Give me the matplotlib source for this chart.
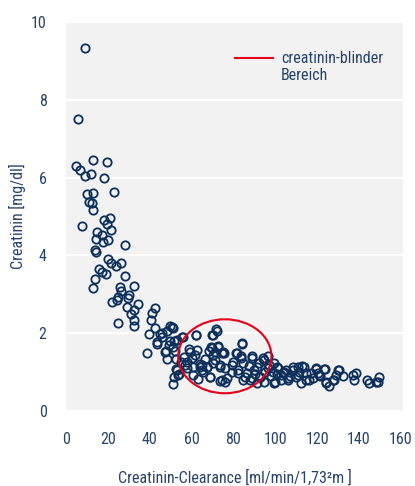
import matplotlib
matplotlib.use("Agg")
import numpy as np
from matplotlib import pyplot as plt
from matplotlib.patches import Ellipse
from matplotlib.lines import Line2D
from matplotlib import font_manager

# pick a narrow font if one is available
names = set(f.name for f in font_manager.fontManager.ttflist)
fams = [f for f in ['Roboto Condensed', 'Liberation Sans Narrow', 'Roboto',
                    'DejaVu Sans'] if f in names]
plt.rcParams['font.family'] = fams

# creatinine clearance (ml/min/1.73m2) vs. serum creatinine (mg/dl)
clearance = [
    9.1, 5.7, 4.8, 6.7, 9.1, 12.0, 12.9, 19.7, 18.2, 10.1, 12.9, 23.0, 11.0, 12.5,
    12.9, 7.7, 18.2, 21.1, 19.6, 21.6, 14.9, 17.2, 14.4, 20.1, 17.7, 28.1, 14.0,
    14.2, 20.0, 21.6, 26.2, 23.8, 16.0, 17.0, 19.0, 28.0, 14.0, 12.9, 26.0, 26.5,
    32.3, 30.3, 25.0, 22.2, 24.3, 29.5, 34.3, 29.0, 32.7, 31.0, 32.3, 32.4, 24.9,
    42.3, 41.0, 40.6, 42.6, 39.5, 44.7, 46.1, 43.5, 38.8, 49.8, 51.1, 48.2, 49.8,
    51.7, 49.0, 51.0, 47.7, 52.2, 48.5, 52.5, 53.0, 51.7, 51.3, 54.1, 55.7, 62.1,
    43.6, 46.0, 50.8, 47.4, 53.0, 52.7, 55.6, 56.2, 57.0, 53.7, 59.4, 60.3, 62.3,
    60.9, 62.6, 60.9, 63.2, 64.2, 65.2, 67.5, 69.0, 69.9, 72.2, 69.9, 70.4, 71.4,
    72.8, 74.7, 75.2, 73.8, 74.7, 77.0, 79.5, 81.9, 84.3, 83.4, 82.4, 85.7, 89.0,
    88.1, 91.5, 93.9, 96.3, 96.8, 92.9, 91.5, 94.4, 99.2, 101.1, 102.5, 99.6, 104.9,
    105.9, 108.7, 110.7, 112.1, 113.5, 114.5, 116.9, 119.3, 120.7, 123.6, 124.1,
    125.5, 127.4, 128.9, 130.3, 132.2, 137.0, 137.5, 138.4, 143.7, 144.7, 149.0,
    149.5, 71.7, 70.3, 84.2, 69.5, 72.8, 71.4, 75.3, 81.4, 83.4, 89.1, 80.0, 84.8,
    65.0, 67.5, 70.4, 73.8, 76.2, 79.5, 82.4, 86.7, 89.6, 92.0, 94.4, 96.3, 92.9,
    89.1, 84.8, 73.8, 76.2, 69.0, 65.6, 98.7, 101.0, 103.5, 105.9, 108.3, 110.7,
    109.7, 102.5, 100.1, 113.0, 119.3, 123.1, 114.5, 120.2, 115.9, 124.1, 129.8,
    127.9, 148.0, 58.0, 61.5, 63.8, 66.3, 68.2, 87.5, 90.5, 95.2, 97.8, 100.6,
    104.0, 106.8, 111.5, 117.8, 121.5, 55.0, 57.8, 59.0,
]
creatinine = [
    9.33, 7.5, 6.3, 6.2, 6.04, 6.1, 6.45, 6.4, 6.0, 5.58, 5.6, 5.63, 5.37, 5.35,
    5.17, 4.76, 4.91, 4.96, 4.8, 4.65, 4.6, 4.52, 4.41, 4.4, 4.35, 4.27, 4.14,
    4.09, 3.9, 3.8, 3.8, 3.73, 3.65, 3.57, 3.52, 3.47, 3.39, 3.16, 3.19, 3.09,
    3.21, 2.98, 2.93, 2.8, 2.85, 2.9, 2.75, 2.67, 2.6, 2.49, 2.34, 2.18, 2.26,
    2.65, 2.52, 2.34, 2.13, 1.98, 1.98, 1.9, 1.72, 1.49, 2.18, 2.13, 2.06, 1.8,
    1.8, 1.7, 1.65, 1.54, 1.54, 1.34, 1.34, 1.05, 0.87, 0.69, 0.95, 1.9, 1.95,
    1.77, 2.0, 2.16, 1.52, 1.82, 1.08, 1.9, 1.39, 1.18, 0.93, 1.52, 1.36, 1.95,
    1.13, 1.57, 0.93, 0.82, 1.13, 1.05, 1.13, 0.87, 1.95, 2.06, 1.62, 1.44, 1.31,
    1.65, 1.49, 1.52, 1.18, 0.8, 0.85, 1.18, 1.49, 1.75, 1.36, 0.98, 0.87, 1.36,
    0.8, 1.13, 1.36, 1.41, 1.18, 0.87, 0.72, 0.75, 1.23, 1.1, 0.93, 0.72, 1.05,
    0.8, 1.13, 0.93, 0.72, 1.13, 0.8, 0.98, 1.08, 0.93, 1.08, 0.75,
    0.64, 0.8, 0.93, 1.05, 0.9, 0.93, 0.8, 0.98, 0.8, 0.72, 0.75,
    0.87, 2.1, 1.95, 1.72, 1.65, 1.67, 1.52, 1.49, 1.49, 1.41, 1.41, 1.26, 1.23,
    1.18, 1.13, 1.23, 1.13, 1.1, 1.0, 1.05, 0.98, 1.05, 1.23, 1.31, 1.1, 0.87,
    0.85, 0.8, 0.77, 0.75, 0.87, 1.0, 1.0, 1.13, 0.98, 0.85, 1.05, 1.13,
    0.87, 0.8, 0.75, 1.16, 1.1, 1.08, 0.98, 0.98, 0.8, 0.72, 1.05,
    0.8, 0.75, 1.25, 1.45, 1.2, 1.35, 1.55, 1.15, 0.95, 1.0, 0.9, 0.95,
    1.0, 0.9, 1.0, 0.85, 0.9, 1.25, 1.1, 1.6,
]

# creatinine-blind range marker
blind_center = (75.9, 1.41)
blind_width = 44.5
blind_height = 1.9
legend_label = "creatinin-blinder\nBereich"

navy = "#0c2f5c"
text_col = "#28436b"
red = "#e2001a"

fig = plt.figure(figsize=(4.15, 4.86), dpi=100)
ax = fig.add_axes([0.159, 0.154, 0.812, 0.801])
ax.set_facecolor("#f2f2f2")

ax.plot(clearance, creatinine, linestyle="none", marker="o", markersize=6.0,
        markerfacecolor="none", markeredgecolor=navy, markeredgewidth=1.3,
        zorder=3)

ell = Ellipse(blind_center, blind_width, blind_height, fill=False,
              edgecolor=red, linewidth=1.5, zorder=4)
ax.add_patch(ell)

ax.set_xlim(0, 161)
ax.set_ylim(0, 10)
ax.set_xticks(np.arange(0, 161, 20))
ax.set_yticks(np.arange(0, 11, 2))
ax.grid(axis="y", color="white", linewidth=1.6)
ax.set_axisbelow(True)
for s in ax.spines.values():
    s.set_visible(False)
ax.tick_params(length=0, labelsize=11.5, colors=text_col)
ax.tick_params(axis="x", pad=15)
ax.tick_params(axis="y", pad=14)

ax.set_xlabel("Creatinin-Clearance [ml/min/1,73²m ]", fontsize=11.5,
              color=text_col)
ax.xaxis.set_label_coords(0.5, -0.15)
ax.set_ylabel("Creatinin [mg/dl]", fontsize=11.5, color=text_col)
ax.yaxis.set_label_coords(-0.12, 0.5)

proxy = Line2D([], [], color=red, linewidth=1.5)
leg = ax.legend([proxy], [legend_label], loc="upper left",
                bbox_to_anchor=(0.472, 0.95), frameon=False, fontsize=11.5,
                handlelength=2.4, handletextpad=0.5, labelcolor=text_col,
                borderaxespad=0.2)
# put the red line level with the first text line, as in the original
hl = leg.get_lines()[0]
hl.set_ydata(np.asarray(hl.get_ydata()) + 6.5)

plt.savefig("out.png", dpi=100)
